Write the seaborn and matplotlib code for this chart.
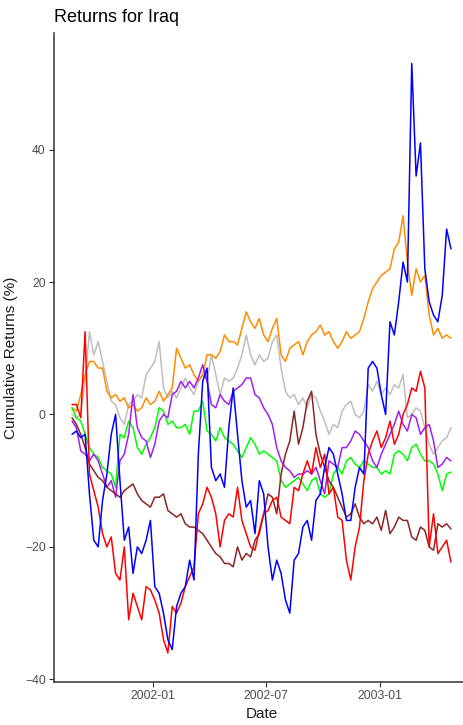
import matplotlib
matplotlib.use("Agg")
import matplotlib.pyplot as plt
import matplotlib.dates as mdates
import numpy as np
import pandas as pd
import seaborn as sns

# Weekly observations, cumulative returns in percent
start_date = "2001-08-24"
n_weeks = 88

blue = [-3, -2.5, -3.5, -3, -12, -19, -20, -13, -9, -3,
        0, -10, -19, -17, -24, -20, -21, -19, -16, -26,
        -27, -30, -34, -35.5, -29, -27, -26, -22, -25, -6,
        5, 7, -8, -10, -9, -11, -2, 4, -3, -10,
        -14, -13, -18, -10, -12, -20, -25, -22, -24, -28,
        -30, -22, -21, -17, -16, -19, -13, -12, -8, -5,
        -6, -9, -12, -16, -16, -11, -8, -9, 7, 8,
        7, 3, 0, 14, 12, 17, 23, 20, 53, 36,
        41, 22, 17, 15, 14, 18, 28, 25]

orange = [1, 0.5, 3, 6, 8, 8, 7, 7, 3.5, 2.5,
          3, 2, 2.5, 1, 1.5, 0.5, 1, 2.5, 1.5, 2,
          3.5, 2, 3, 4, 10, 8.5, 7, 7.5, 6, 5,
          6, 9, 9, 8.5, 9.5, 12, 11, 11, 10.5, 13,
          15.5, 14, 13, 14.5, 12, 11, 13, 14.5, 9, 8,
          10, 10.5, 11, 9, 11, 12, 12.5, 13.5, 12, 12.5,
          11, 10, 11, 12.5, 11.5, 12, 12.5, 14.5, 17, 19,
          20, 21, 21.5, 22, 25, 26, 30, 23, 18, 22,
          20, 21, 15, 12, 13, 11.5, 12, 11.5]

gray = [0, -0.5, 0, 5, 12.5, 9, 11, 8, 5, 2,
        1.5, -0.5, -1.5, 1.5, 2, 3, 2.5, 6, 7, 8,
        11, 4, 2.5, 3.5, 2.5, 4, 5.5, 4, 3, 5,
        6, 5, 9, 6, 3, 5.5, 5, 5.5, 7, 9,
        12, 9, 7.5, 9, 8, 8.5, 11, 12, 7, 3.5,
        2.5, 3, 1.5, 2.5, 1, 3, 2.5, 0.5, -1, -3,
        -1.5, -2, 0.5, 1.5, 2, 0, -0.5, 0.5, 4.5, 3.5,
        5, 3, 4, 3, 4.5, 4, 6, -0.5, 0, 1,
        0.5, -2, -4.5, -6, -5, -4, -3.5, -2]

purple = [-1, -2, -5.5, -6, -7, -6, -7, -9, -11, -10,
          -12.5, -7, -6, -3, 3, -2, -3.5, -4, -6.5, -4.5,
          -1, 0, -0.5, 3, 3.5, 5, 4, 5, 4, 5.5,
          7.5, 5, 1.5, 1, 3, 2, 1.5, 3.5, 4, 4.5,
          5.5, 5.5, 3, 2.5, 1, 0, -1.5, -5, -7, -8,
          -8.5, -9.5, -9, -9, -8.5, -9, -8, -10, -12, -7,
          -7.5, -8, -5, -5, -4, -2.5, -3, -4, -5, -7,
          -8, -6, -4.5, -3, -1.5, 0.5, -1.5, -2.5, 0, -0.5,
          -3, -2, -1.5, -4, -8, -7.5, -6.5, -7]

green = [1, -0.5, -1, -3, -5, -6, -6.5, -8, -8.5, -9,
         -11, -3, -3.5, -1, -2, -5, -6, -4.5, -3.5, -2,
         1, 0.5, -1.5, -1, -2, -2, -1.5, -3, 0.5, 0.5,
         2, -2.5, -3, -4, -2, -3.5, -4, -4.5, -5.5, -6.5,
         -5, -3.5, -4.5, -6, -5.5, -6, -6.5, -7, -10, -11,
         -10.5, -10, -9.5, -10.5, -11.5, -10, -9.5, -12, -12.5, -12,
         -9, -8, -9, -7, -6.5, -7.5, -8, -7, -7.5, -8,
         -8, -9, -8.5, -9, -6, -5.5, -6, -7, -5, -4.5,
         -6, -7, -7, -7.5, -9, -11.5, -9, -8.7]

brown = [-0.5, -1.5, -3, -5, -7.5, -8.5, -9.5, -10, -11, -11.5,
         -12, -12.5, -11.5, -11, -10.5, -12, -13, -13.5, -14, -12.5,
         -12.5, -12, -14.5, -15, -15.5, -15, -16.5, -17, -17, -17.5,
         -18, -19, -20, -21, -21.5, -22.5, -22.5, -23, -20, -22,
         -21, -21.5, -19, -18, -15, -12, -12.5, -15, -9, -6,
         -4, 0.5, -4.5, -2, 2, 3.5, -3, -6, -8, -10,
         -11, -12.5, -14, -15.5, -15, -13.5, -15.5, -16.5, -16, -16.5,
         -15.5, -17.5, -14.5, -18, -17, -15.5, -16, -16, -18.5, -19,
         -17, -17.5, -20, -20.5, -16.5, -17, -16.5, -17.3]

red = [1.5, 1.5, -0.5, 12.5, -9, -11.5, -14, -18, -20, -18.5,
       -24, -25, -20, -31, -27, -29, -31, -26, -26.5, -28,
       -30, -34, -36, -29, -30, -28.5, -26, -24.5, -23, -15,
       -13.5, -11, -12.5, -15, -20, -16, -15, -15.5, -11, -16,
       -18, -20, -20.5, -17.5, -15, -14.5, -13, -12.5, -15.5, -16,
       -16.5, -11, -11.5, -9, -7, -9, -5, -8, -6, -12,
       -11, -15.5, -16, -22, -25, -20, -17, -10, -6, -4,
       -2.5, -5, -3.5, -1, -4.5, -3, 0, 1.5, 4, 3.5,
       6.5, 4, -20, -15, -21, -20, -19, -22.3]

series = {
    "S1": gray,
    "S2": orange,
    "S3": green,
    "S4": purple,
    "S5": brown,
    "S6": red,
    "S7": blue,
}
colors = {
    "S1": "#BEBEBE",
    "S2": "#FF8C00",
    "S3": "#00FF00",
    "S4": "#A020F0",
    "S5": "#8B2525",
    "S6": "#FF0000",
    "S7": "#0000FF",
}

dates = pd.date_range(start_date, periods=n_weeks, freq="7D")
frames = []
for name, vals in series.items():
    frames.append(pd.DataFrame({"Date": dates, "Return": vals, "Series": name}))
df = pd.concat(frames, ignore_index=True)

sns.set_style("ticks")
plt.rcParams["font.family"] = ["Liberation Sans", "DejaVu Sans"]

W, H = 464, 725
fig = plt.figure(figsize=(W / 100, H / 100), dpi=100)
left_px, right_px, top_px, bottom_px = 54, 469, 33, 682
ax = fig.add_axes([left_px / W, 1 - bottom_px / H,
                   (right_px - left_px) / W, (bottom_px - top_px) / H])

sns.lineplot(data=df, x="Date", y="Return", hue="Series", palette=colors,
             linewidth=1.1, legend=False, ax=ax, estimator=None)

ax.set_xlim(pd.Timestamp("2001-07-26"), pd.Timestamp("2003-05-24"))
ax.set_ylim(-40.4, 57.6)
ax.set_yticks([-40, -20, 0, 20, 40])
ax.set_xticks([pd.Timestamp("2002-01-01"), pd.Timestamp("2002-07-01"),
               pd.Timestamp("2003-01-01")])
ax.xaxis.set_major_formatter(mdates.DateFormatter("%Y-%m"))

for side in ["top", "right"]:
    ax.spines[side].set_visible(False)
for side in ["left", "bottom"]:
    ax.spines[side].set_color("#333333")
    ax.spines[side].set_linewidth(1.1)

ax.tick_params(axis="both", direction="out", length=3.5, width=0.8,
               color="#333333", labelsize=8.7, labelcolor="#4D4D4D", pad=2.5)

ax.set_xlabel("Date", fontsize=11, color="#1a1a1a", labelpad=3)
ax.set_ylabel("Cumulative Returns (%)", fontsize=11, color="#1a1a1a", labelpad=5)

fig.text(left_px / W, 1 - 22 / H, "Returns for Iraq", fontsize=13,
         ha="left", va="baseline", color="#000000")

fig.savefig("out.png", dpi=100)
